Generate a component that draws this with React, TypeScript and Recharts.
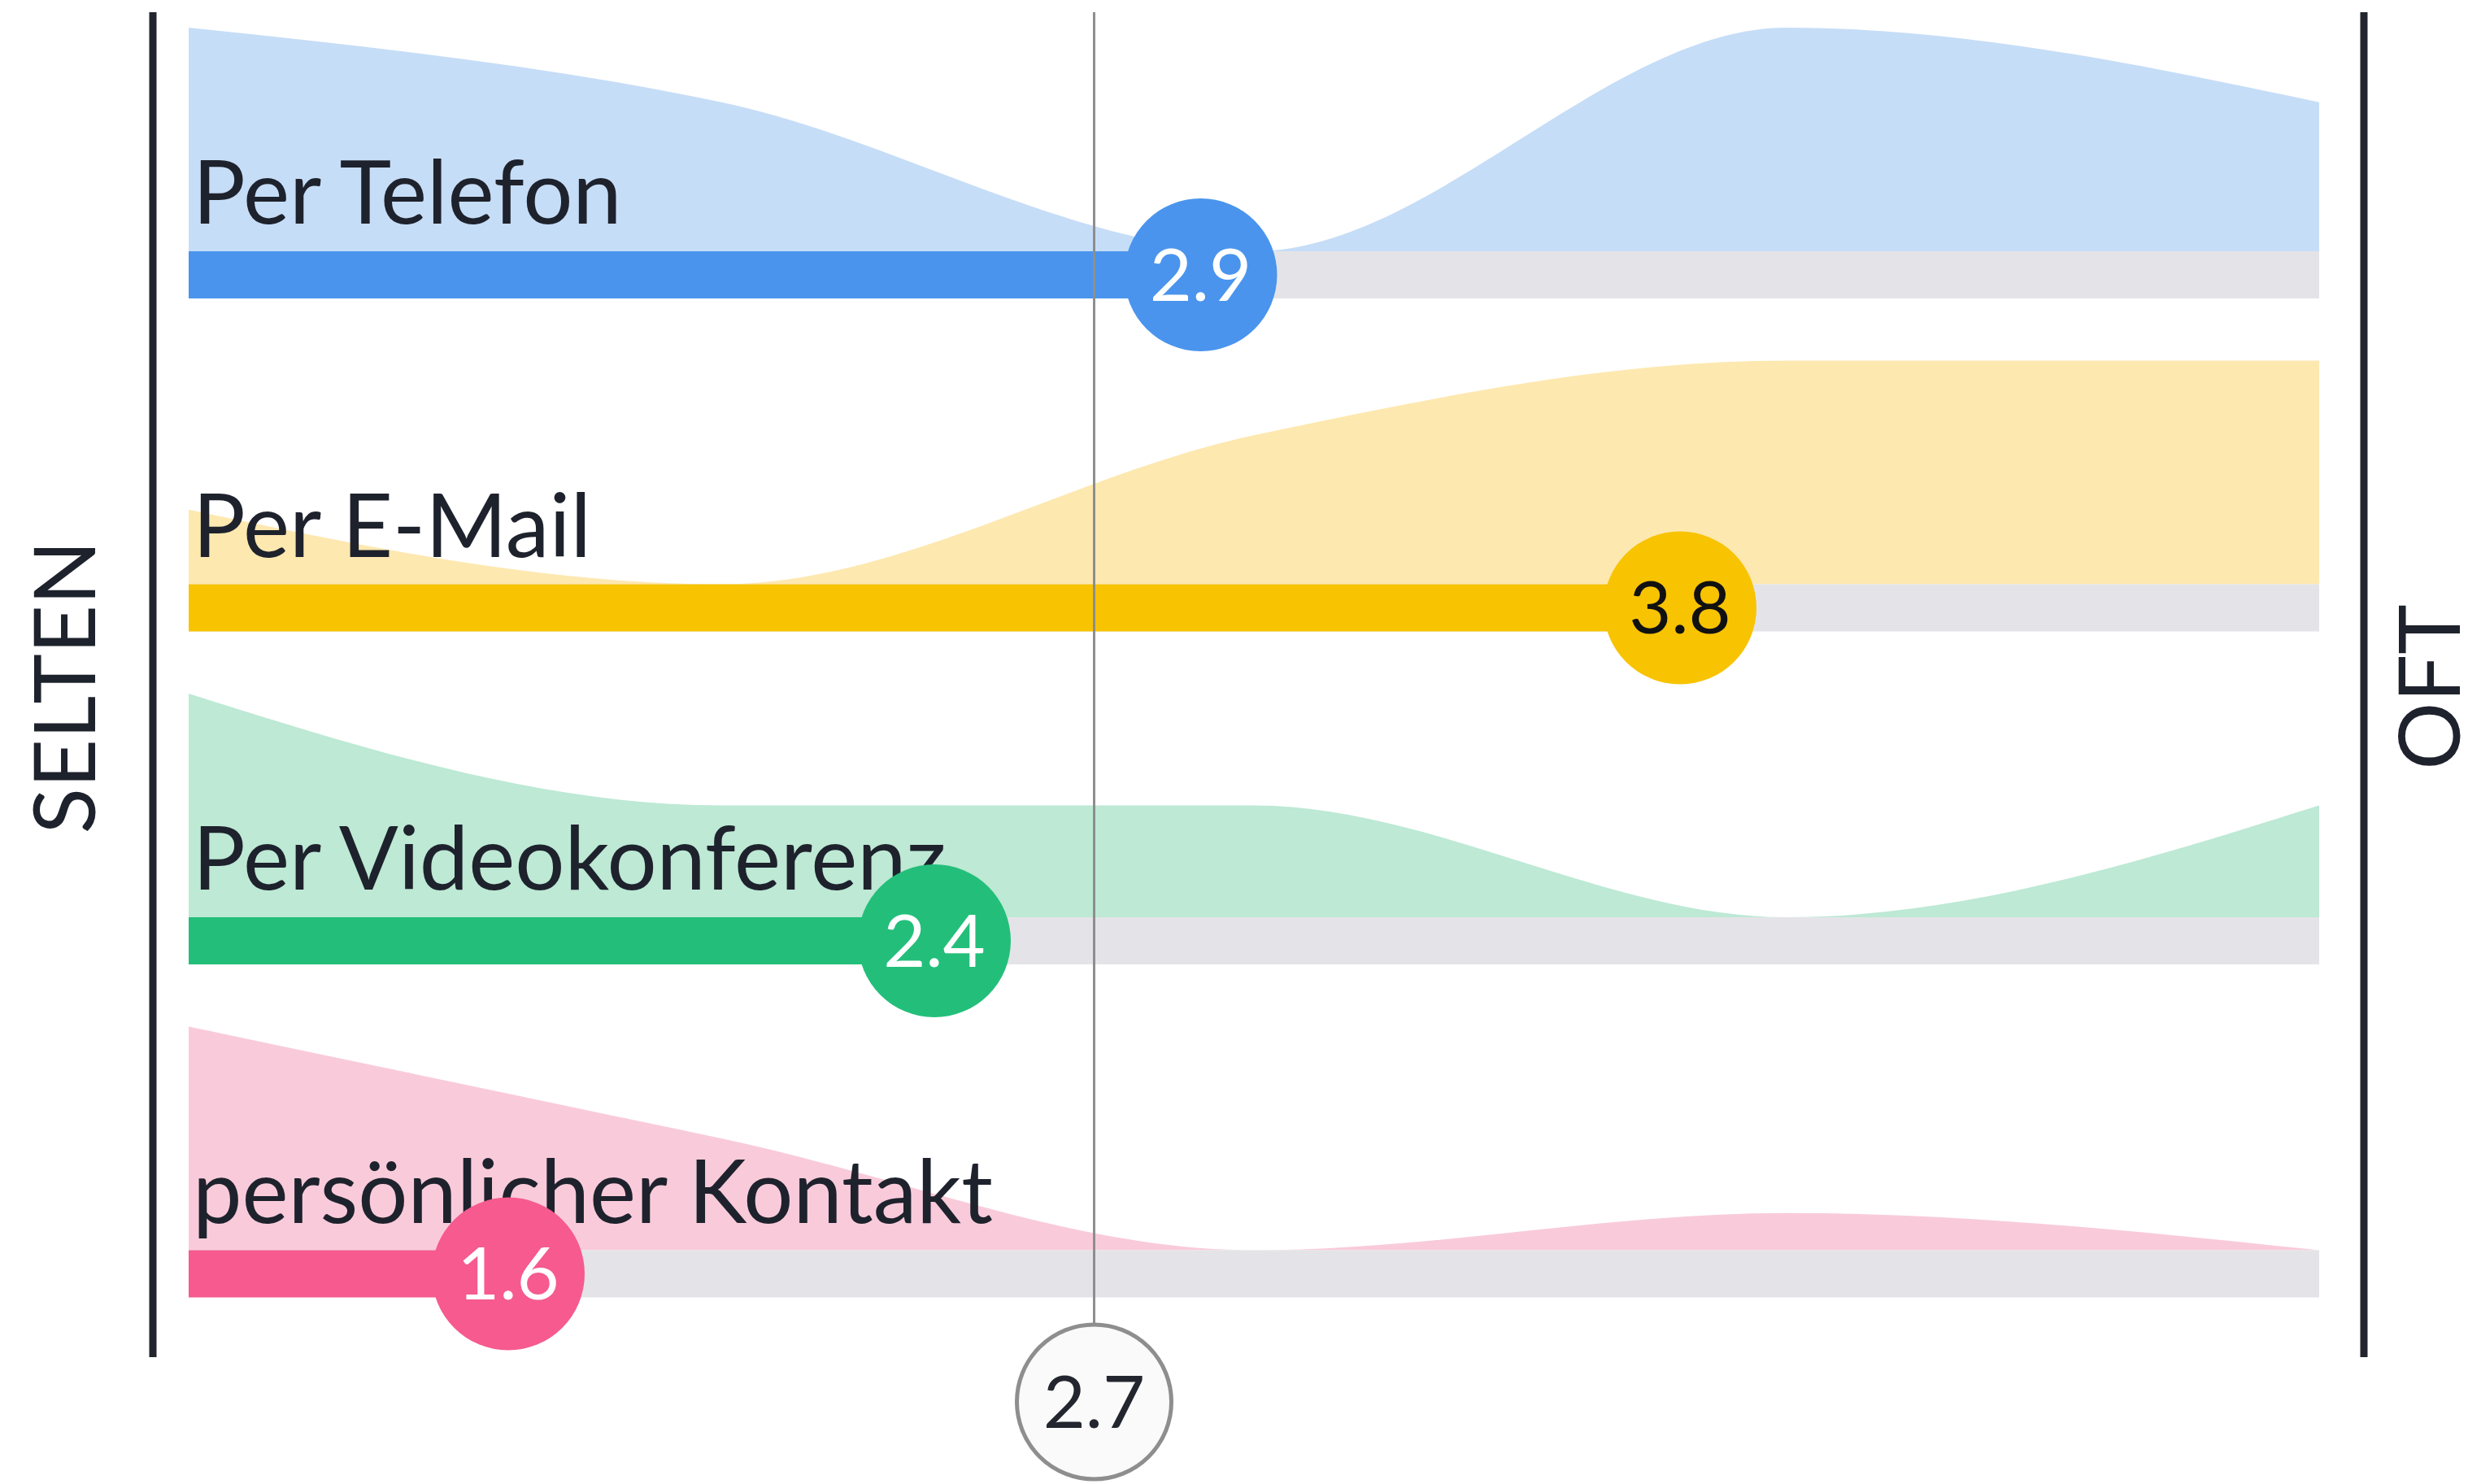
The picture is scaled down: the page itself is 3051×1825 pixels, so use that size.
import React from 'react';
import {
    ComposedChart, Area, XAxis, YAxis, ReferenceArea, ReferenceLine, ReferenceDot,
} from 'recharts';

// answer scale: 1 = selten ... 5 = oft
const scaleSteps = [1, 2, 3, 4, 5];
const channels = ['Per Telefon', 'Per E-Mail', 'Per Videokonferenz', 'persönlicher Kontakt'];

// share of answers (%) per scale step, one list per channel
const telefon = [30, 20, 0, 30, 20];
const email = [11, 0, 22, 33, 33];
const video = [40, 20, 20, 0, 20];
const kontakt = [60, 30, 0, 10, 0];

const means = [2.9, 3.8, 2.4, 1.6];
const overallMean = 2.7;
const axisLabels = ['SELTEN', 'OFT'];

const areaColors = ['#c6ddf7', '#fde8b0', '#bde9d5', '#f9cbda'];
const barColors = ['#4a94ed', '#f8c300', '#23bf7a', '#f65a8e'];
const valueColors = ['#ffffff', '#111111', '#ffffff', '#ffffff'];
const textColor = '#1e222c';
const font = 'Lato, "Noto Sans", sans-serif';

// layout (y axis runs in pixels of the plot area, 0 at the bottom)
const W = 3051;
const H = 1825;
const PLOT_H = 1654;
const ROW_TOP = 1360;
const ROW_STEP = 409.5;
const AREA_H = 275;
const BAR_H = 58;
const DOT_R = 94;

const rowBase = (i: number) => ROW_TOP - i * ROW_STEP;
const shares = [telefon, email, video, kontakt];

const chartData = scaleSteps.map((step, j) => {
    const row: Record<string, number | number[]> = { x: step };
    shares.forEach((list, i) => {
        const base = rowBase(i);
        row[`r${i}`] = [base, base + (list[j] / Math.max(...list)) * AREA_H];
    });
    return row;
});

const sideLabel = (text: string, dx: number) => (props: any) => {
    const vb = props.viewBox;
    const x = vb.x + dx;
    const y = vb.y + vb.height / 2 + 3;
    return (
        <text x={x} y={y} transform={`rotate(-90 ${x} ${y})`} textAnchor="middle"
            fontFamily={font} fontSize={104} fill={textColor}>
            {text}
        </text>
    );
};

const App = () => {
    return (
        <div style={{ width: W, height: H, background: '#fff' }}>
            <style>{'body{margin:0;overflow:hidden;background:#fff}'}</style>
            <ComposedChart width={W} height={H} data={chartData}
                margin={{ top: 15, right: 0, bottom: H - 15 - PLOT_H, left: 0 }}>
                <XAxis type="number" dataKey="x" domain={[1, 5]} hide allowDataOverflow
                    padding={{ left: 44, right: 55 }} />
                <YAxis yAxisId="l" type="number" domain={[0, PLOT_H]} allowDataOverflow width={188}
                    tick={false} tickLine={false}
                    axisLine={{ stroke: '#22252e', strokeWidth: 9 }}
                    label={{ content: sideLabel(axisLabels[0], 117) }} />
                <YAxis yAxisId="r" orientation="right" type="number" domain={[0, PLOT_H]} allowDataOverflow
                    width={144} tick={false} tickLine={false}
                    axisLine={{ stroke: '#22252e', strokeWidth: 9 }}
                    label={{ content: sideLabel(axisLabels[1], 118) }} />

                {channels.map((c, i) => (
                    <Area key={c} yAxisId="l" type="monotone" dataKey={`r${i}`}
                        fill={areaColors[i]} fillOpacity={1} stroke="none"
                        dot={false} activeDot={false} isAnimationActive={false} />
                ))}

                {channels.map((c, i) => (
                    <ReferenceArea key={`t${c}`} yAxisId="l" x1={1} x2={5}
                        y1={rowBase(i) - BAR_H} y2={rowBase(i)} fill="#e4e4e8" fillOpacity={1} stroke="none" />
                ))}
                {channels.map((c, i) => (
                    <ReferenceArea key={`b${c}`} yAxisId="l" x1={1} x2={means[i]}
                        y1={rowBase(i) - BAR_H} y2={rowBase(i)} fill={barColors[i]} fillOpacity={1} stroke="none" />
                ))}

                <ReferenceLine yAxisId="l" x={overallMean} stroke="#8e8e8e" strokeWidth={3} />

                {channels.map((c, i) => (
                    <ReferenceDot key={`l${c}`} yAxisId="l" x={1} y={rowBase(i) + 34} r={0}
                        ifOverflow="visible"
                        shape={(p: any) => (
                            <text x={p.cx + 5} y={p.cy} fontFamily={font} fontSize={108} fill={textColor}>
                                {c}
                            </text>
                        )} />
                ))}

                {channels.map((c, i) => (
                    <ReferenceDot key={`d${c}`} yAxisId="l" x={means[i]} y={rowBase(i) - BAR_H / 2}
                        r={DOT_R} fill={barColors[i]} stroke="none" ifOverflow="visible"
                        label={{ value: means[i].toFixed(1), position: 'center', fill: valueColors[i], fontSize: 90, fontFamily: font }} />
                ))}

                <ReferenceDot yAxisId="l" x={overallMean} y={-55} r={95} fill="#fafafa"
                    stroke="#8e8e8e" strokeWidth={5} ifOverflow="visible"
                    label={{ value: overallMean.toFixed(1), position: 'center', fill: '#23262e', fontSize: 90, fontFamily: font }} />
            </ComposedChart>
        </div>
    );
};

export default App;
